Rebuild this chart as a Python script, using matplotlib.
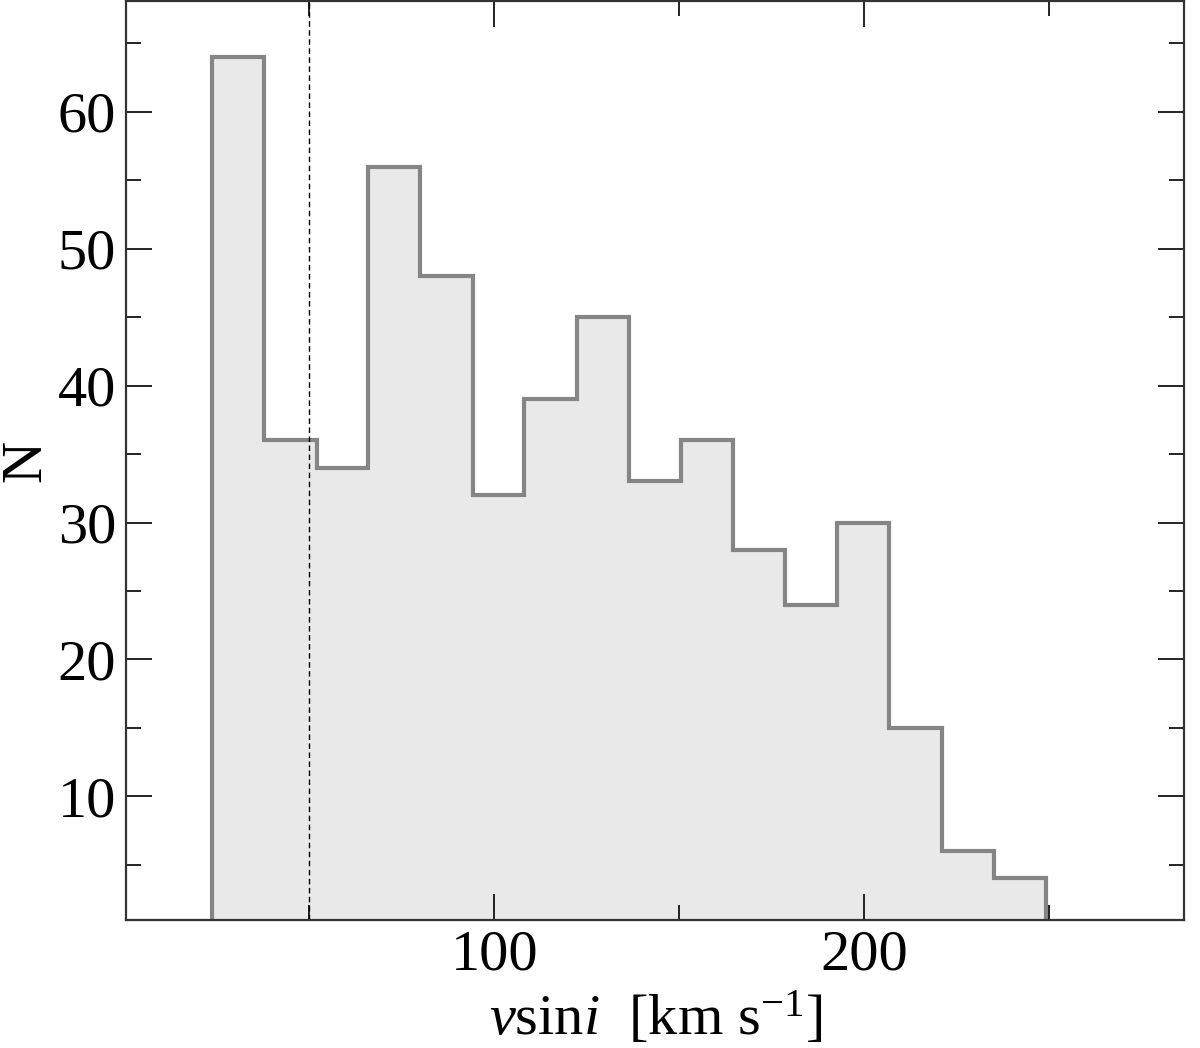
import numpy as np
import matplotlib
matplotlib.use("Agg")
import matplotlib.pyplot as plt
from matplotlib.ticker import MultipleLocator

# data
bin_edges = [23.8, 37.9, 52.0, 66.0, 80.0, 94.2, 108.1, 122.3, 136.5,
             150.6, 164.6, 178.6, 192.7, 206.6, 220.9, 235.0, 249.1]
counts = [64, 36, 34, 56, 48, 32, 39, 45, 33, 36, 28, 24, 30, 15, 6, 4]
threshold = 50
x_label = "$v$sin$i$  [km s$^{-1}$]"
y_label = "N"

plt.rcParams['font.family'] = ['Liberation Serif', 'DejaVu Serif']
plt.rcParams['mathtext.fontset'] = 'custom'
plt.rcParams['mathtext.rm'] = 'Liberation Serif'
plt.rcParams['mathtext.it'] = 'Liberation Serif:italic'
plt.rcParams['mathtext.bf'] = 'Liberation Serif:bold'

fig = plt.figure(figsize=(6, 5.24), dpi=200)
ax = fig.add_axes([0.105, 0.122, 0.882, 0.877])

centers = [(bin_edges[i] + bin_edges[i + 1]) / 2 for i in range(len(counts))]
ax.hist(centers, bins=bin_edges, weights=counts, histtype='stepfilled',
        facecolor='#e9e9e9', edgecolor='#858585', linewidth=1.5)
ax.axvline(threshold, color='black', linestyle=(0, (4, 2.5)), linewidth=0.5)

ax.set_xlim(0.5, 286.5)
ax.set_ylim(0.95, 68.1)

ax.xaxis.set_major_locator(MultipleLocator(100))
ax.xaxis.set_minor_locator(MultipleLocator(50))
ax.yaxis.set_major_locator(MultipleLocator(10))
ax.yaxis.set_minor_locator(MultipleLocator(5))
ax.tick_params(which='both', direction='in', top=True, right=True,
               labelsize=21, width=0.7, color='#222222')
ax.tick_params(which='major', length=9.5)
ax.tick_params(which='minor', length=5.5)
for s in ax.spines.values():
    s.set_linewidth(0.8)
    s.set_color('#333333')

ax.set_xlabel(x_label, fontsize=21, labelpad=3)
ax.set_ylabel(y_label, fontsize=21, labelpad=2)

fig.savefig("out.png", dpi=200)
